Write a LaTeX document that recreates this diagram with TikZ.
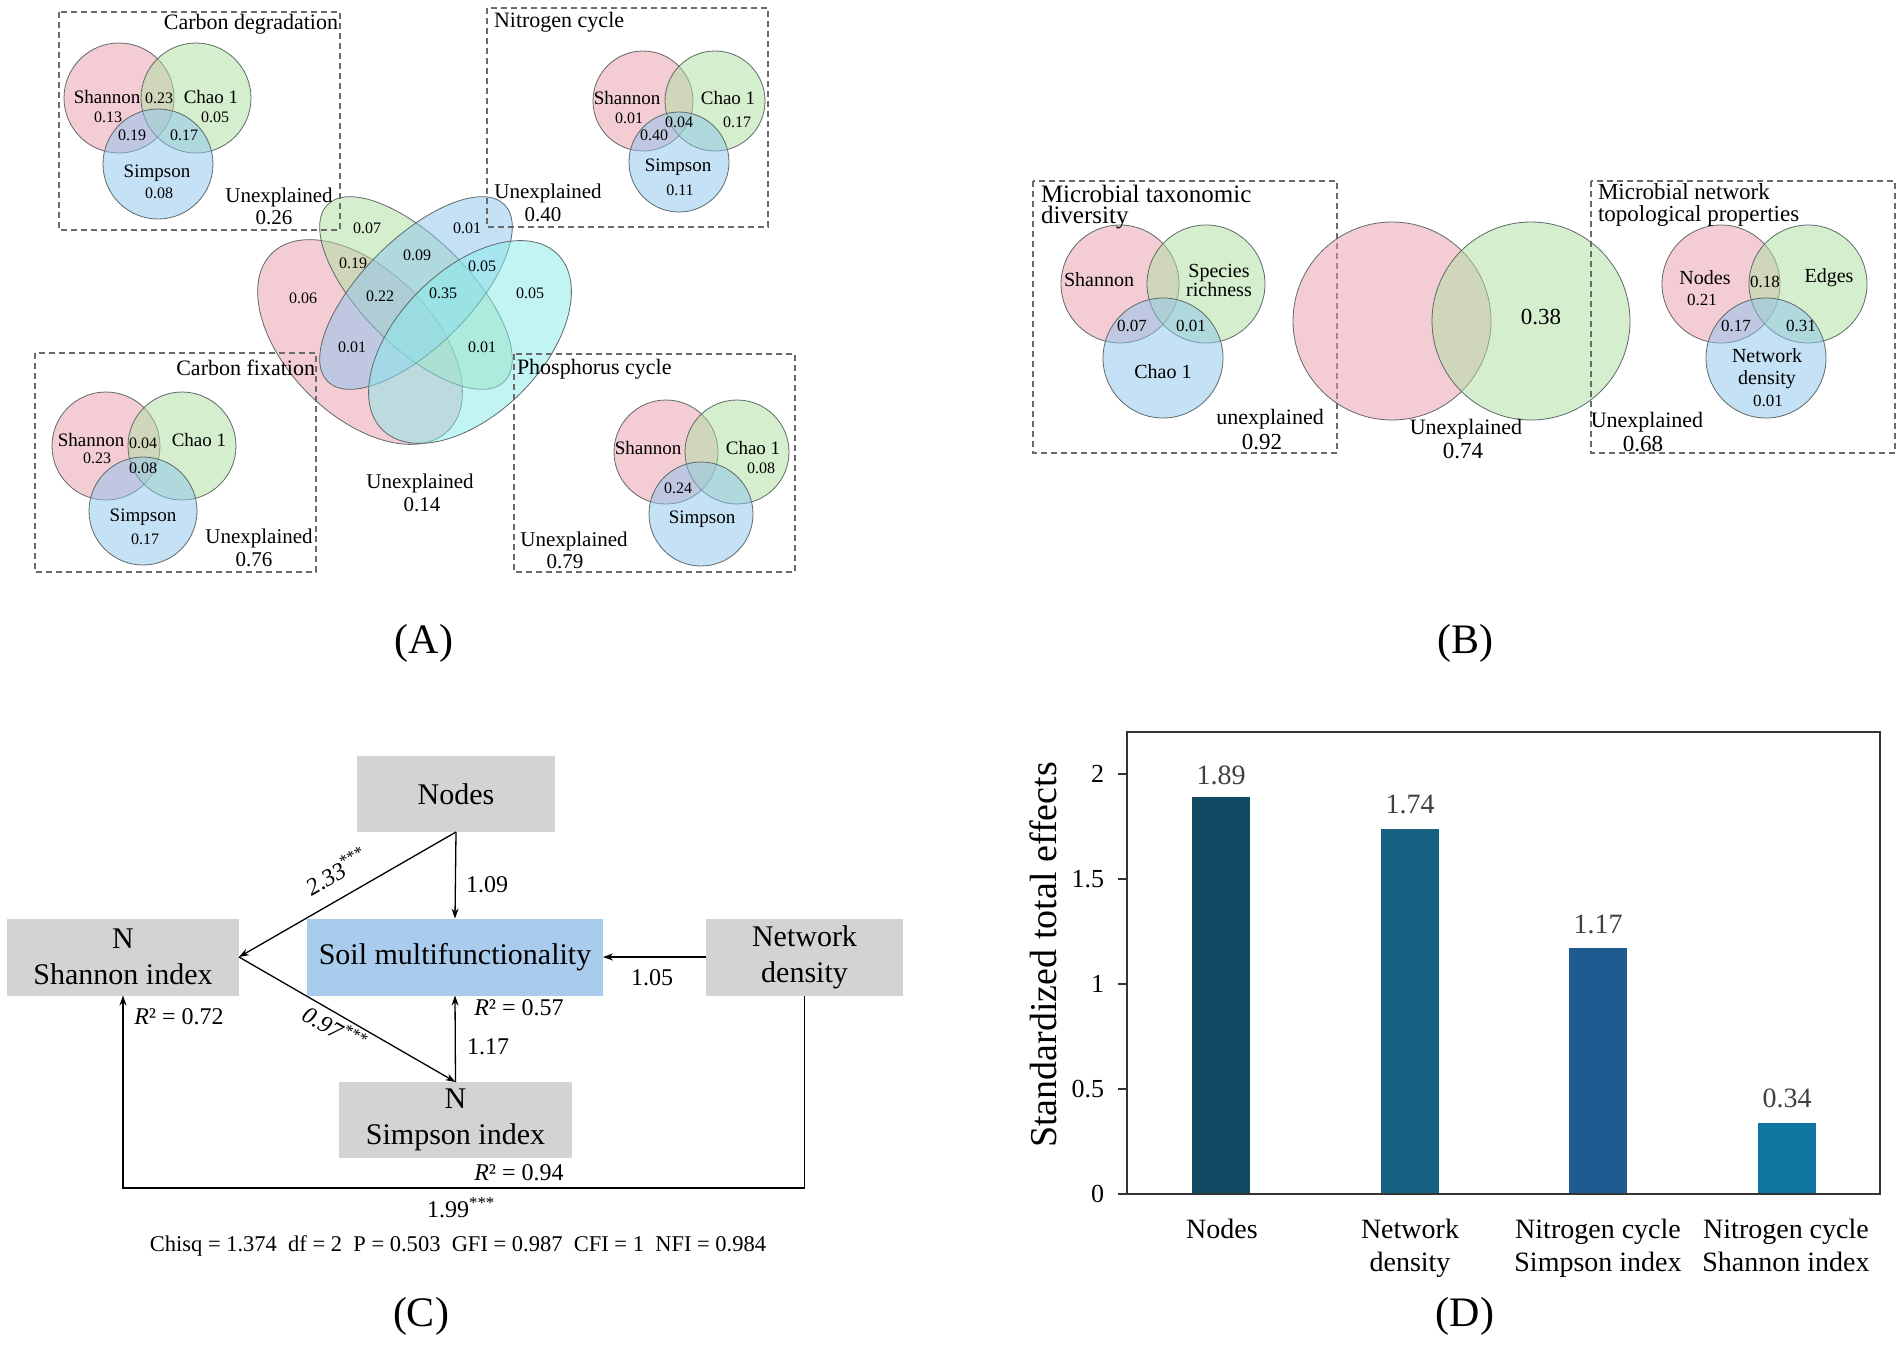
\documentclass[tikz,border=0pt]{standalone}
\usepackage{fontspec}
\setmainfont{Liberation Serif}
\usetikzlibrary{arrows.meta}
\definecolor{vpink}{RGB}{235,155,171}
\definecolor{vgreen}{RGB}{173,225,159}
\definecolor{vblue}{RGB}{141,197,239}
\definecolor{vcyan}{RGB}{135,235,235}
\definecolor{vline}{RGB}{95,105,105}
\definecolor{dashgray}{RGB}{105,105,105}
\definecolor{boxgray}{RGB}{211,211,211}
\definecolor{soilblue}{RGB}{169,203,236}
\definecolor{barA}{RGB}{17,73,99}
\definecolor{barB}{RGB}{22,96,130}
\definecolor{barC}{RGB}{31,90,145}
\definecolor{barD}{RGB}{16,118,160}
\definecolor{vallab}{RGB}{64,64,64}
\begin{document}
\begin{tikzpicture}[x=1pt,y=-1pt]
\tikzset{
  tx/.style={inner sep=0pt, outer sep=0pt},
  fsz/.style={font=\fontsize{#1}{#1}\selectfont},
  vl/.style={draw=vline, line width=0.8pt, fill opacity=0.5},
  dbox/.style={draw=dashgray, line width=1.1pt, dash pattern=on 6pt off 4pt},
  cbox/.style={fill=boxgray, inner sep=0pt, outer sep=0pt, align=center, font=\fontsize{30}{36}\selectfont},
  arr/.style={line width=1.3pt, -{Stealth[length=10pt,width=7pt]}},
  clab/.style={inner sep=0pt, font=\fontsize{24}{24}\selectfont},
  xlab/.style={inner sep=0pt, anchor=north, align=center, font=\fontsize{28}{33}\selectfont},
}
\useasboundingbox (0,0) rectangle (1902,1347);
\fill[white] (0,0) rectangle (1902,1347);

% ================= Panel A =================
% big four-set Venn
\draw[vl, fill=vpink, rotate around={-45:(360,342)}] (360,342) ellipse [x radius=125, y radius=73];
\draw[vl, fill=vgreen, rotate around={-45:(416,293)}] (416,293) ellipse [x radius=125, y radius=54];
\draw[vl, fill=vblue, rotate around={45:(416,293)}] (416,293) ellipse [x radius=125, y radius=54];
\draw[vl, fill=vcyan, rotate around={45:(470,342)}] (470,342) ellipse [x radius=124, y radius=72];
\node[tx,fsz=16] (b1) at (367,228) {0.07};
\node[tx,fsz=16] (b2) at (467,228) {0.01};
\node[tx,fsz=16] (b3) at (353,263) {0.19};
\node[tx,fsz=16] (b4) at (417,255) {0.09};
\node[tx,fsz=16] (b5) at (482,266) {0.05};
\node[tx,fsz=16] (b6) at (303,298) {0.06};
\node[tx,fsz=16] (b7) at (380,296) {0.22};
\node[tx,fsz=16] (b8) at (443,293) {0.35};
\node[tx,fsz=16] (b9) at (530,293) {0.05};
\node[tx,fsz=16] (b10) at (352,347) {0.01};
\node[tx,fsz=16] (b11) at (482,347) {0.01};
\node[tx,fsz=21] (bU) at (420,483) {Unexplained};
\node[tx,fsz=21] (bV) at (422,505) {0.14};

% Carbon degradation
\draw[vl, fill=vpink] (119,98) circle [radius=55];
\draw[vl, fill=vgreen] (196,98) circle [radius=55];
\draw[vl, fill=vblue] (158,164) circle [radius=55];
\draw[dbox] (59,12) rectangle (340,230);
\node[tx,fsz=22,anchor=east] (cdT) at (338,24) {Carbon degradation};
\node[tx,fsz=19] (cd1) at (107,97) {Shannon};
\node[tx,fsz=16] (cd2) at (108,117) {0.13};
\node[tx,fsz=16] (cd3) at (159,98) {0.23};
\node[tx,fsz=19] (cd4) at (211,97) {Chao 1};
\node[tx,fsz=16] (cd5) at (215,117) {0.05};
\node[tx,fsz=16] (cd6) at (132,135) {0.19};
\node[tx,fsz=16] (cd7) at (184,135) {0.17};
\node[tx,fsz=19] (cd8) at (157,173) {Simpson};
\node[tx,fsz=16] (cd9) at (159,193) {0.08};
\node[tx,fsz=21] (cdU) at (279,197) {Unexplained};
\node[tx,fsz=21] (cdV) at (274,218) {0.26};

% Nitrogen cycle
\draw[vl, fill=vpink] (643,101) circle [radius=50];
\draw[vl, fill=vgreen] (715,101) circle [radius=50];
\draw[vl, fill=vblue] (679,162) circle [radius=50];
\draw[dbox] (487,8) rectangle (768,227);
\node[tx,fsz=22,anchor=west] (ncT) at (494,22) {Nitrogen cycle};
\node[tx,fsz=19] (nc1) at (627,98) {Shannon};
\node[tx,fsz=16] (nc2) at (629,118) {0.01};
\node[tx,fsz=16] (nc3) at (679,122) {0.04};
\node[tx,fsz=19] (nc4) at (728,98) {Chao 1};
\node[tx,fsz=16] (nc5) at (737,122) {0.17};
\node[tx,fsz=16] (nc6) at (654,135) {0.40};
\node[tx,fsz=19] (nc7) at (678,167) {Simpson};
\node[tx,fsz=16] (nc8) at (680,190) {0.11};
\node[tx,fsz=21] (ncU) at (548,193) {Unexplained};
\node[tx,fsz=21] (ncV) at (543,215) {0.40};

% Carbon fixation
\draw[vl, fill=vpink] (106,446) circle [radius=54];
\draw[vl, fill=vgreen] (182,446) circle [radius=54];
\draw[vl, fill=vblue] (143,511) circle [radius=54];
\draw[dbox] (35,353) rectangle (316,572);
\node[tx,fsz=22,anchor=east] (cfT) at (315,368) {Carbon fixation};
\node[tx,fsz=19] (cf1) at (91,440) {Shannon};
\node[tx,fsz=16] (cf2) at (143,443) {0.04};
\node[tx,fsz=19] (cf3) at (199,440) {Chao 1};
\node[tx,fsz=16] (cf4) at (97,458) {0.23};
\node[tx,fsz=16] (cf5) at (143,468) {0.08};
\node[tx,fsz=19] (cf6) at (143,517) {Simpson};
\node[tx,fsz=16] (cf7) at (145,539) {0.17};
\node[tx,fsz=21] (cfU) at (259,538) {Unexplained};
\node[tx,fsz=21] (cfV) at (254,560) {0.76};

% Phosphorus cycle
\draw[vl, fill=vpink] (666,452) circle [radius=52];
\draw[vl, fill=vgreen] (737,452) circle [radius=52];
\draw[vl, fill=vblue] (701,514) circle [radius=52];
\draw[dbox] (514,354) rectangle (795,572);
\node[tx,fsz=22,anchor=west] (pcT) at (517,369) {Phosphorus cycle};
\node[tx,fsz=19] (pc1) at (648,448) {Shannon};
\node[tx,fsz=19] (pc2) at (753,448) {Chao 1};
\node[tx,fsz=16] (pc3) at (761,468) {0.08};
\node[tx,fsz=16] (pc4) at (678,488) {0.24};
\node[tx,fsz=19] (pc5) at (702,519) {Simpson};
\node[tx,fsz=21] (pcU) at (574,541) {Unexplained};
\node[tx,fsz=21] (pcV) at (565,562) {0.79};

\node[tx,fsz=42] (labA) at (424,643) {(A)};

% ================= Panel B =================
\draw[vl, fill=vpink] (1120,284) circle [radius=59];
\draw[vl, fill=vgreen] (1206,284) circle [radius=59];
\draw[vl, fill=vblue] (1163,358) circle [radius=60];
\draw[dbox] (1033,181) rectangle (1337,453);
\node[tx,anchor=north west,align=left,font=\fontsize{25}{21}\selectfont] (mtT) at (1041,185) {Microbial taxonomic\\diversity};
\node[tx,fsz=20] (mt1) at (1099,280) {Shannon};
\node[tx,align=center,font=\fontsize{20}{19}\selectfont] (mt2) at (1219,280) {Species\\richness};
\node[tx,fsz=17] (mt3) at (1132,326) {0.07};
\node[tx,fsz=17] (mt4) at (1191,326) {0.01};
\node[tx,fsz=20] (mt5) at (1163,372) {Chao 1};
\node[tx,fsz=22] (mtU) at (1270,419) {unexplained};
\node[tx,fsz=23] (mtV) at (1262,442) {0.92};

\draw[vl, fill=vpink] (1392,321) circle [radius=99];
\draw[vl, fill=vgreen] (1531,321) circle [radius=99];
\node[tx,fsz=23] (mm1) at (1541,317) {0.38};
\node[tx,fsz=22] (mmU) at (1466,429) {Unexplained};
\node[tx,fsz=23] (mmV) at (1463,451) {0.74};

\draw[vl, fill=vpink] (1721,284) circle [radius=59];
\draw[vl, fill=vgreen] (1808,284) circle [radius=59];
\draw[vl, fill=vblue] (1766,358) circle [radius=60];
\draw[dbox] (1591,181) rectangle (1895,453);
\node[tx,anchor=north west,align=left,font=\fontsize{23}{22}\selectfont] (ntT) at (1598,184) {Microbial network\\topological properties};
\node[tx,fsz=20] (nt1) at (1705,278) {Nodes};
\node[tx,fsz=17] (nt2) at (1702,300) {0.21};
\node[tx,fsz=17] (nt3) at (1765,282) {0.18};
\node[tx,fsz=20] (nt4) at (1829,278) {Edges};
\node[tx,fsz=17] (nt5) at (1736,326) {0.17};
\node[tx,fsz=17] (nt6) at (1801,326) {0.31};
\node[tx,align=center,font=\fontsize{20}{22}\selectfont] (nt7) at (1767,369) {Network\\density};
\node[tx,fsz=17] (nt8) at (1768,401) {0.01};
\node[tx,fsz=22] (ntU) at (1647,422) {Unexplained};
\node[tx,fsz=23] (ntV) at (1643,444) {0.68};

\node[tx,fsz=42] (labB) at (1465,643) {(B)};

% ================= Panel C =================
\node[cbox, minimum width=198, minimum height=76] (nodes) at (456,794) {Nodes};
\node[cbox, minimum width=232, minimum height=77] (shan) at (123,957) {N\\Shannon index};
\node[cbox, fill=soilblue, minimum width=296, minimum height=77] (soil) at (455,957) {Soil multifunctionality};
\node[cbox, minimum width=197, minimum height=77] (net) at (804.5,957) {Network\\density};
\node[cbox, minimum width=233, minimum height=76] (simp) at (455.5,1120) {N\\Simpson index};
\coordinate (corner) at (460,1188);

\draw[arr] (nodes.south) -- (soil.north);
\draw[arr] (nodes.south) -- (shan.east);
\draw[arr] (shan.east) -- (simp.north);
\draw[arr] (simp.north) -- (soil.south);
\draw[arr, line width=2.4pt] (net.west) -- (soil.east);
\draw[arr] (net.south) |- (corner) -| (shan.south);

\node[clab] (l109) at (487,885) {1.09};
\node[clab, rotate=30] (l233) at (336,871) {\textit{2.33}\textsuperscript{***}};
\node[clab, rotate=-30] (l097) at (335,1028) {\textit{0.97}\textsuperscript{***}};
\node[clab] (l117) at (488,1047) {1.17};
\node[clab] (r057) at (519,1008) {\textit{R}² = 0.57};
\node[clab] (l105) at (652,978) {1.05};
\node[clab] (r072) at (179,1017) {\textit{R}² = 0.72};
\node[clab] (r094) at (519,1173) {\textit{R}² = 0.94};
\node[clab] (l199) at (461,1208) {1.99\textsuperscript{***}};
\node[tx,font=\fontsize{22.5}{22.5}\selectfont] (stats) at (458,1246) {Chisq = 1.374\enspace df = 2\enspace P = 0.503\enspace GFI = 0.987\enspace CFI = 1\enspace NFI = 0.984};

\node[tx,fsz=42] (labC) at (421,1316) {(C)};

% ================= Panel D =================
\fill[barA] (1192,1194) rectangle (1250,797.1);
\fill[barB] (1381,1194) rectangle (1439,828.6);
\fill[barC] (1569,1194) rectangle (1627,948.3);
\fill[barD] (1758,1194) rectangle (1816,1122.6);
\draw[line width=1.3pt, draw=black!80] (1127,732) rectangle (1880,1194);
\foreach \v/\l/\n in {0/0/a,0.5/0.5/b,1/1/c,1.5/1.5/d,2/2/e}{
  \draw[line width=1.1pt, draw=black!80] (1118,{1194-210*\v}) -- (1127,{1194-210*\v});
  \node[tx,fsz=26,anchor=east] (yt\n) at (1104,{1194-210*\v}) {\l};
}
\node[tx,fsz=28,text=vallab] (v1) at (1221,775) {1.89};
\node[tx,fsz=28,text=vallab] (v2) at (1410,804) {1.74};
\node[tx,fsz=28,text=vallab] (v3) at (1598,924) {1.17};
\node[tx,fsz=28,text=vallab] (v4) at (1787,1098) {0.34};
\node[xlab] (x1) at (1222,1219) {Nodes};
\node[xlab] (x2) at (1410,1219) {Network\\density};
\node[xlab] (x3) at (1598,1219) {Nitrogen cycle\\Simpson index};
\node[xlab] (x4) at (1786,1219) {Nitrogen cycle\\Shannon index};
\node[tx,fsz=38,rotate=90] (ylab) at (1043,955) {Standardized total effects};

\node[tx,fsz=42] (labD) at (1465,1316) {(D)};
\end{tikzpicture}
\end{document}
